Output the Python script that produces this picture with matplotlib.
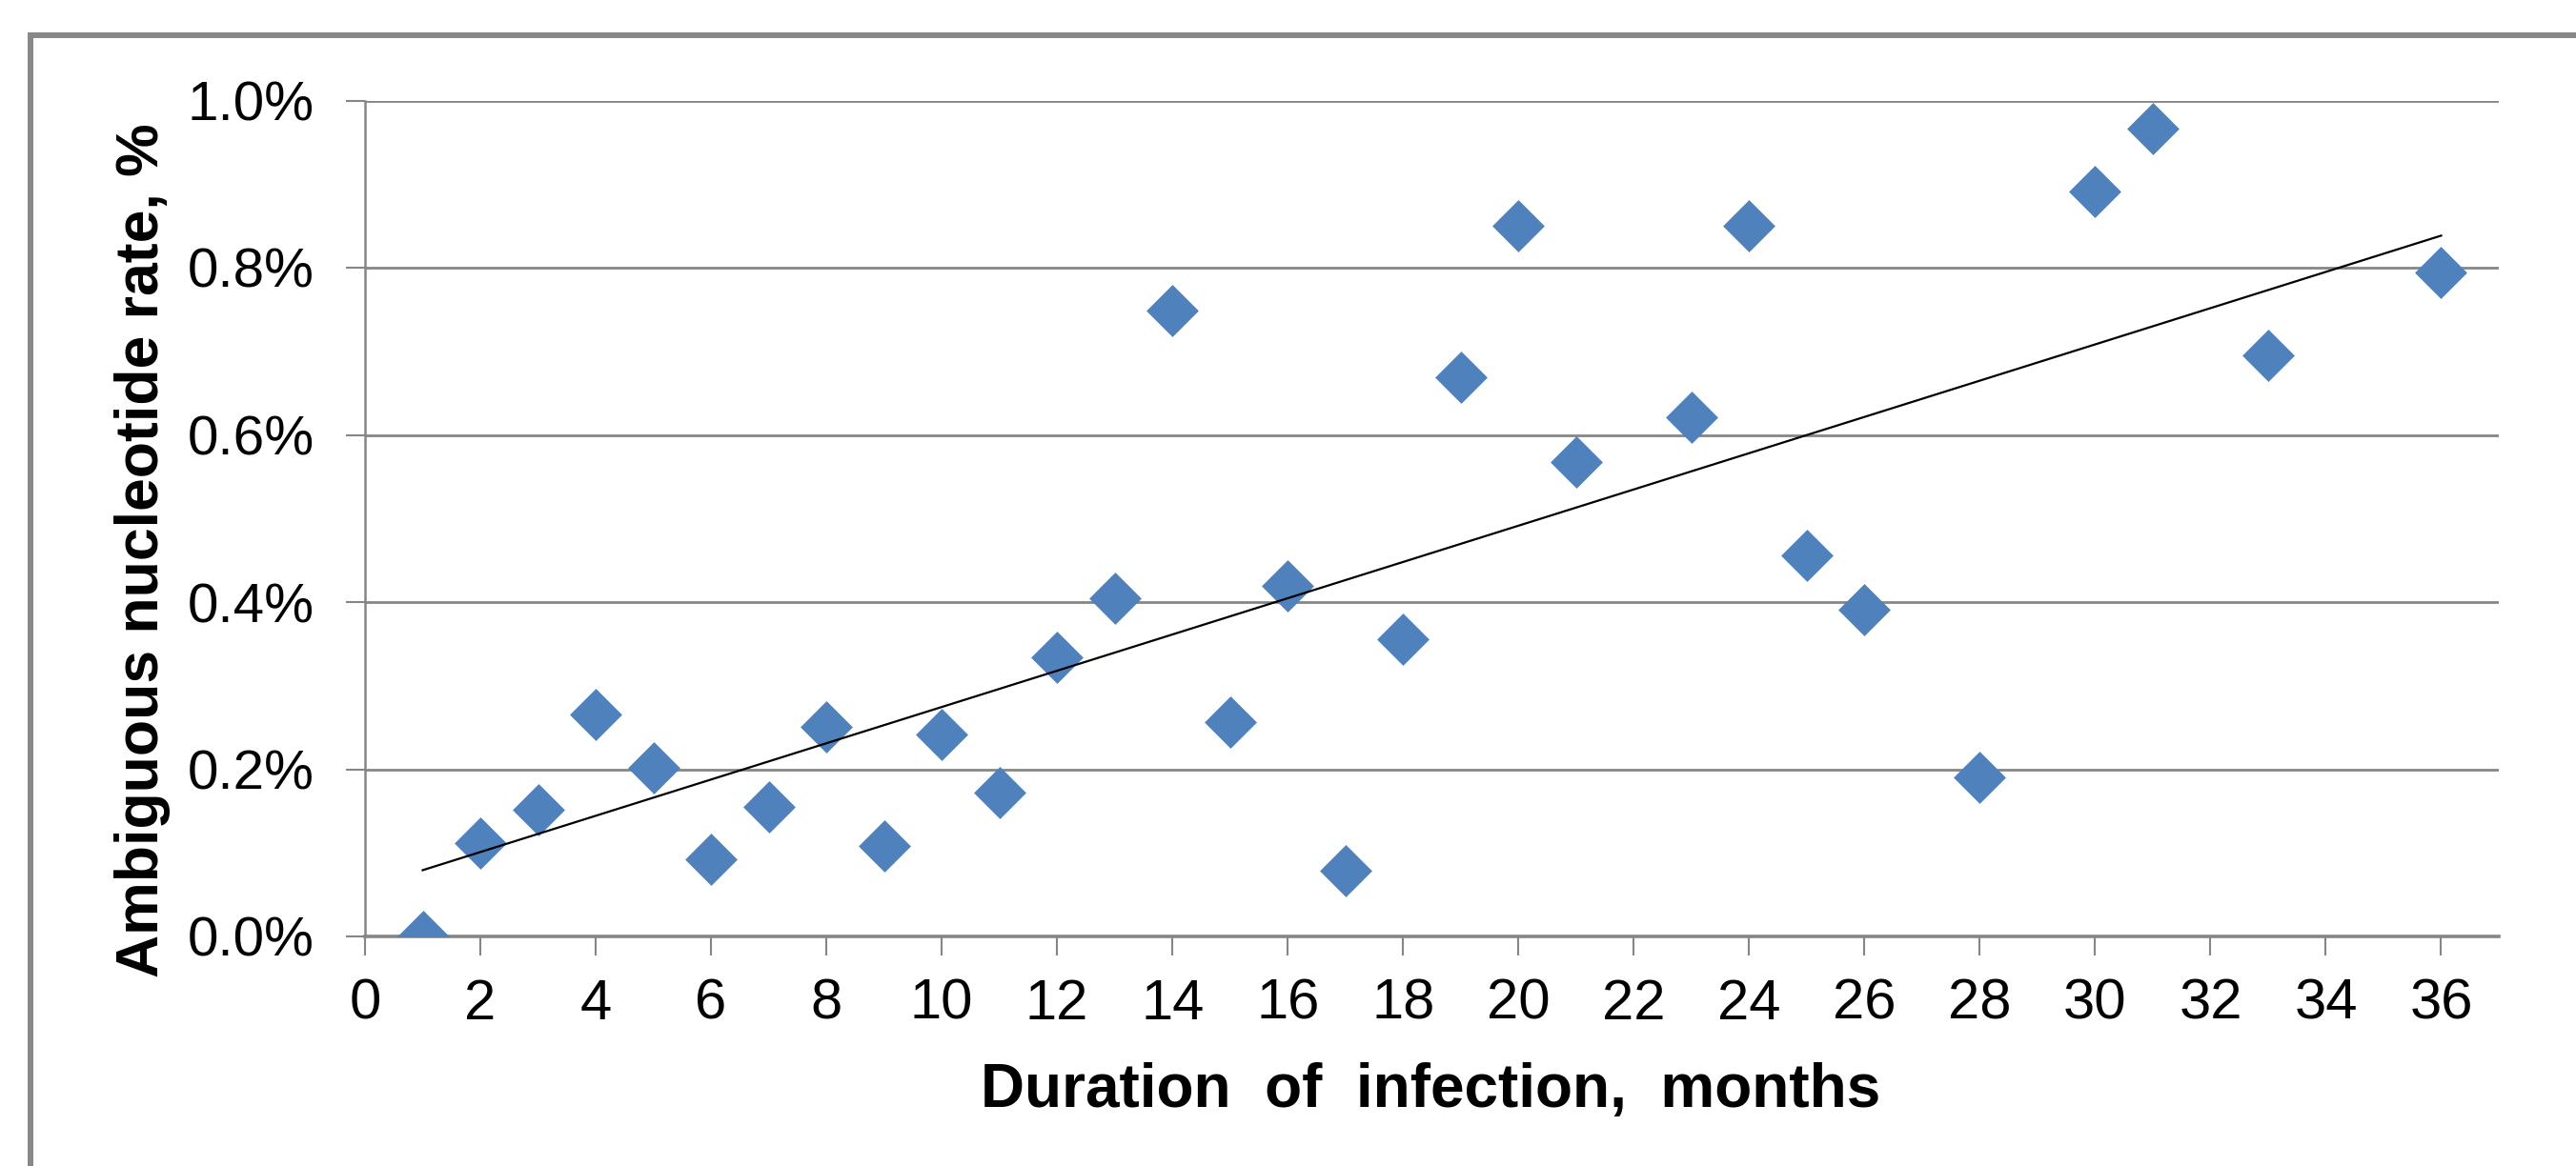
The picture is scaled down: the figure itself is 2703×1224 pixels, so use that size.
import matplotlib.pyplot as plt
import numpy as np
from matplotlib.lines import Line2D
from matplotlib.ticker import FuncFormatter

# Duration of infection (months) and ambiguous nucleotide rate (%)
months = [1, 2, 3, 4, 5, 6, 7, 8, 9, 10, 11, 12, 13, 14, 15, 16, 17, 18, 19, 20,
          21, 23, 24, 25, 26, 28, 30, 31, 33, 36]
rate = [0.000, 0.112, 0.151, 0.266, 0.202, 0.092, 0.155, 0.251, 0.108, 0.242,
        0.172, 0.334, 0.405, 0.749, 0.256, 0.419, 0.079, 0.356, 0.669, 0.850,
        0.567, 0.621, 0.850, 0.456, 0.391, 0.190, 0.891, 0.966, 0.695, 0.794]

x_ticks = np.arange(0, 37, 2)
y_ticks = [0.0, 0.2, 0.4, 0.6, 0.8, 1.0]

W, H = 2703, 1224
fig = plt.figure(figsize=(W / 100, H / 100), dpi=100)
ax = fig.add_axes([383 / W, 1 - 983 / H, (2622 - 383) / W, (983 - 105.5) / H])

grey = '#868686'
blue = '#4F81BD'

# scatter points as diamonds
diamond = [(0, 1), (1, 0), (0, -1), (-1, 0), (0, 1)]
ax.plot(months, rate, linestyle='none', marker=diamond, markersize=39.5,
        color=blue, markeredgewidth=0, zorder=3)

# linear trendline
slope, intercept = np.polyfit(months, rate, 1)
xt = np.array([min(months), max(months)])
ax.plot(xt, slope * xt + intercept, color='black', linewidth=1.6, zorder=4)

ax.set_xlim(0, 37)
ax.set_ylim(0, 1.0)
ax.set_xticks(x_ticks)
ax.set_yticks(y_ticks)
ax.yaxis.set_major_formatter(FuncFormatter(lambda v, p: f'{v:.1f}%'))

ax.grid(True, axis='y', color=grey, linewidth=2.0)
ax.set_axisbelow(True)
for s in ['top', 'right']:
    ax.spines[s].set_visible(False)
ax.spines['left'].set_color(grey)
ax.spines['left'].set_linewidth(1.8)
ax.spines['bottom'].set_color(grey)
ax.spines['bottom'].set_linewidth(2.6)

ax.tick_params(axis='both', colors=grey, length=14.4, width=1.5, labelcolor='black')
ax.tick_params(axis='x', pad=17)
ax.tick_params(axis='y', pad=24)
for lab in ax.get_xticklabels():
    lab.set_fontfamily('Liberation Sans')
    lab.set_fontsize(43)
for lab in ax.get_yticklabels():
    lab.set_fontfamily('Liberation Sans')
    lab.set_fontsize(42)

# axis titles
fig.text(150 / W, 1 - 578 / H, 'Ambiguous nucleotide rate, %', rotation=90,
         ha='center', va='center', fontsize=45, fontweight='bold',
         family=['Liberation Sans'])
fig.text(1501 / W, 1 - 1162 / H, 'Duration  of  infection,  months',
         ha='center', va='baseline', fontsize=46, fontweight='bold',
         family=['Liberation Sans'])

# outer chart frame (left and top edges visible)
fx, fy = 32 / W, 1 - 37 / H
fig.add_artist(Line2D([fx, fx], [-0.02, fy], transform=fig.transFigure,
                      color='#888888', linewidth=4.3, solid_capstyle='projecting'))
fig.add_artist(Line2D([fx, 1.02], [fy, fy], transform=fig.transFigure,
                      color='#888888', linewidth=4.3, solid_capstyle='projecting'))

fig.savefig('out.png', dpi=100, facecolor='white')
